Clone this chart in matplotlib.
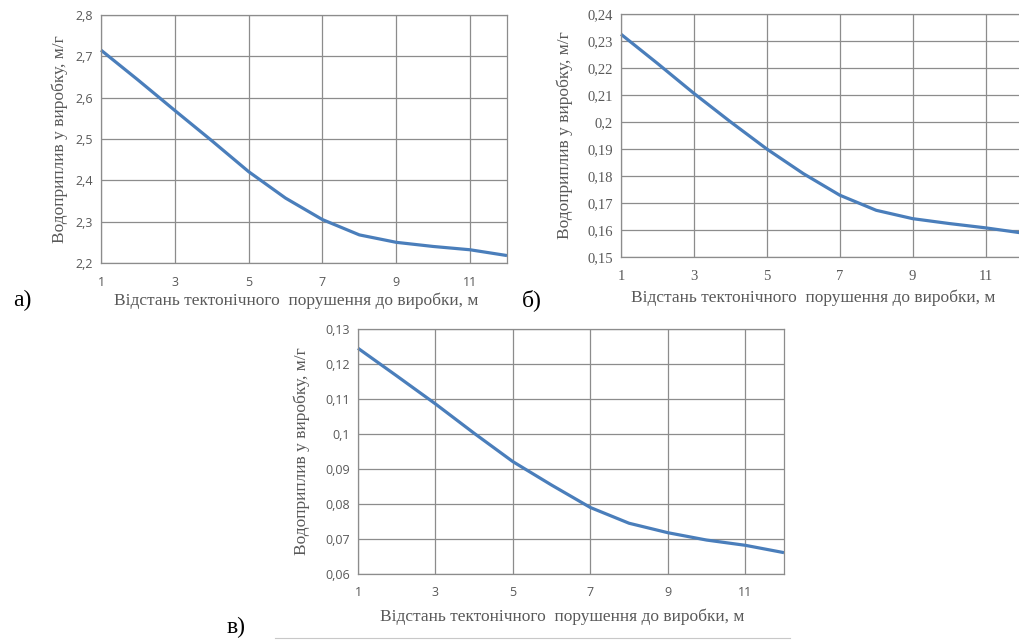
import matplotlib.pyplot as plt
from matplotlib.ticker import FuncFormatter, MultipleLocator, FixedLocator

W, H = 1020, 641

x = [1, 2, 3, 4, 5, 6, 7, 8, 9, 10, 11, 12]
x_ticks = [1, 3, 5, 7, 9, 11]
flow_a = [2.715, 2.643, 2.569, 2.496, 2.421, 2.357, 2.305, 2.268, 2.250, 2.240, 2.232, 2.218]
flow_b = [0.2325, 0.2217, 0.2106, 0.2001, 0.1900, 0.1809, 0.1729, 0.1673, 0.1642, 0.1624, 0.1608, 0.1589]
flow_c = [0.1245, 0.1166, 0.1086, 0.1002, 0.0921, 0.0854, 0.0790, 0.0745, 0.0718, 0.0697, 0.0682, 0.0661]

XLABEL = 'Відстань тектонічного  порушення до виробки, м'
YLABEL = 'Водоприплив у виробку, м/г'
LINE_COLOR = '#4a7ebb'
TEXT_GRAY = '#595959'

# data, box (left, top, right, bottom) px, y range, y step, tick font, tick size,
# letter, letter pos, xlabel y px, ylabel x px
panels = [
    (flow_a, (101, 15, 507, 263), (2.2, 2.8), 0.1, 'Open Sans', 9, 'а)', (22, 300), 301, 60),
    (flow_b, (621, 14, 1022, 257), (0.15, 0.24), 0.01, 'Liberation Serif', 10.5, 'б)', (532, 300), 298, 565),
    (flow_c, (358, 329, 784, 574), (0.06, 0.13), 0.01, 'Open Sans', 9, 'в)', (236, 627), 617, 302),
]


def comma(v, pos):
    return ('%g' % round(v, 4)).replace('.', ',')


fig = plt.figure(figsize=(W / 100, H / 100), dpi=100)

for y, (l, t, r, b), ylim, step, tick_font, tick_size, letter, (lx, ly), xl_y, yl_x in panels:
    ax = fig.add_axes([l / W, 1 - b / H, (r - l) / W, (b - t) / H])
    ax.plot(x, y, color=LINE_COLOR, lw=2.3, solid_capstyle='butt', clip_on=False)
    ax.set_xlim(1, 12)
    ax.set_ylim(*ylim)
    ax.xaxis.set_major_locator(FixedLocator(x_ticks))
    ax.yaxis.set_major_locator(MultipleLocator(step))
    ax.yaxis.set_major_formatter(FuncFormatter(comma))
    ax.grid(True, color='#8c8c8c', lw=0.9)
    ax.set_axisbelow(True)
    for s in ax.spines.values():
        s.set_color('#8c8c8c')
        s.set_linewidth(0.9)
    ax.tick_params(length=0, labelsize=tick_size, labelcolor=TEXT_GRAY)
    ax.tick_params(axis='x', pad=9)
    ax.tick_params(axis='y', pad=6)
    for lab in ax.get_xticklabels() + ax.get_yticklabels():
        lab.set_family(tick_font)

    ax.set_xlabel(XLABEL, family='Liberation Serif', fontsize=12.5, color=TEXT_GRAY, va='center')
    ax.set_ylabel(YLABEL, family='Liberation Serif', fontsize=12.5, color=TEXT_GRAY, va='center')
    ax.xaxis.set_label_coords(0.48, -(xl_y - b) / (b - t))
    ax.yaxis.set_label_coords(-(l - yl_x) / (r - l), 0.5)

    fig.text(lx / W, 1 - ly / H, letter, family='Liberation Serif', fontsize=17,
             ha='center', va='center', color='black')

# underline next to the last panel letter
fig.add_artist(plt.Line2D([275 / W, 790 / W], [1 - 638 / H, 1 - 638 / H], color='#c8c8c8', lw=0.8))

fig.savefig('out.png', dpi=100)
